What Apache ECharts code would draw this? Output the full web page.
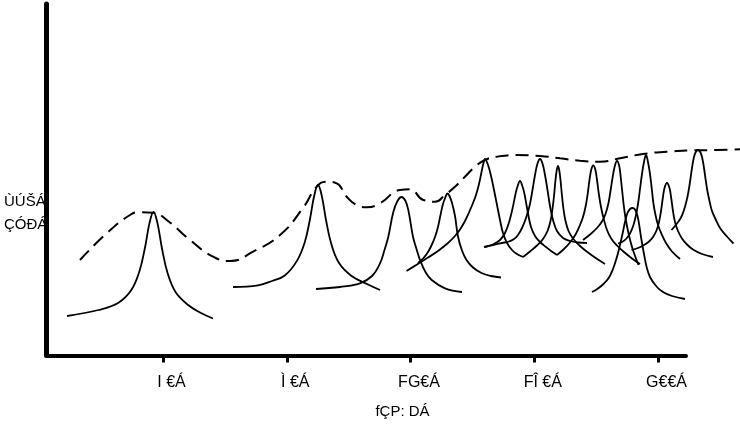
<!DOCTYPE html>
<html>
<head>
<meta charset="utf-8">
<script src="https://cdn.jsdelivr.net/npm/echarts@6/dist/echarts.min.js"></script>
<style>
  html, body { margin: 0; padding: 0; background: #fff; }
  #chart { width: 740px; height: 426px; }
</style>
</head>
<body>
<div id="chart"></div>
<script>
// ---- data (x in axis units, y in arbitrary intensity units) ----
const xTickValues = [40, 80, 120, 160, 200];
const xTickLabels = ['I €Á', 'Ì €Á', 'FG€Á', 'FÎ €Á', 'G€€Á'];
const xAxisTitle = 'fÇP: DÁ';
const yAxisTitle = ['ÙÚŠÁ', 'ÇÓÐÁ'];

const envelope = [
  [13.17,95.5],[21.80,122.2],[29.33,140.5],[32.57,143.2],[36.77,142.8],[41.20,135.5],
  [48.73,115.5],[56.16,98.8],[61.66,94.5],[69.09,103.8],[77.82,120.5],[85.25,147.5],
  [89.68,168.8],[92.91,173.8],[96.14,172.2],[99.37,158.8],[102.61,150.5],[105.84,148.2],
  [110.14,152.2],[116.60,165.5],[119.83,166.2],[124.13,155.5],[127.92,153.8],[131.15,160.5],
  [134.38,168.8],[137.61,178.8],[140.84,188.8],[144.08,195.5],[147.86,198.8],[154.32,200.5],
  [161.85,199.5],[168.32,197.2],[174.78,194.8],[181.25,193.8],[187.71,197.2],[195.15,201.5],
  [202.80,203.8],[210.34,205],[218.97,205.5],[226.50,206.2]
];

const peak1 = [[8.97,39.5],[19.15,45.5],[25.61,52.8],[29.81,65.7],[32.40,84.5],[34.18,108],[35.63,132.4],
  [36.93,143.5],[38.22,132.1],[39.67,107],[41.45,82.8],[44.04,63.5],[48.24,50.2],[51.96,43],[56.16,37]];
const peak2 = [[62.62,68.5],[70.70,70.2],[75.23,74.5],[79.35,80],[83.34,94.9],[85.80,113.1],[87.48,136],[88.87,159.7],
  [90.10,170.5],[91.33,159.4],[92.72,135],[94.40,111.5],[96.85,92.7],[100.84,79.8],[106.26,71],[110.14,65.5]];
const peak3 = [[89.45,66.5],[97.21,68.5],[103.67,72.2],[107.55,79.5],[110.14,92.2],[111.59,105.5],[112.82,118.8],
  [114.44,143.5],[115.79,154.5],[117.09,158.5],[118.38,154.5],[119.35,144.5],[120.80,118.8],[121.94,106.5],
  [123.07,95.5],[124.84,83.5],[126.85,75.5],[131.15,67.2],[136.64,63.5]];
const peak4 = [[122.42,92.5],[124.04,97],[125.33,102],[126.62,109],[127.92,118.5],[128.88,128.5],[129.69,140.5],
  [130.50,151.5],[131.31,158.5],[131.96,162],[132.60,159.5],[133.41,152.5],[134.38,139.5],[135.35,119],
  [136.64,105],[138.10,95.5],[140.20,88],[142.95,82.5],[146.02,79.5],[149.25,78]];
const peak5 = [[118.70,84.5],[122.09,91],[125.65,98],[128.88,104.5],[132.12,112.5],[134.38,119.5],[136.00,126],
  [137.61,134.5],[138.90,143],[140.20,152.5],[141.17,160.5],[142.14,171.5],[142.95,183.5],[143.59,192.5],
  [144.08,196.5],[144.56,194.5],[145.37,187.5],[146.18,177.5],[146.99,165.5],[147.96,150.5],[148.93,135.5],
  [149.89,122.5],[151.19,112.5],[152.80,105.5],[154.42,101.5],[156.36,98.5]];
const peak6 = [[144.08,108.5],[146.66,111],[148.93,115.5],[150.54,122.5],[151.67,131.5],[152.48,140.5],[153.29,151.5],
  [153.94,161.5],[154.58,169],[155.39,174.5],[156.20,169],[156.84,161.5],[157.49,150.5],[158.14,139.5],
  [158.95,128.5],[160.24,119.5],[161.85,113.5],[163.79,108.5],[165.41,104.5],[167.35,100.5]];
const peak7 = [[143.75,108.5],[146.66,110.5],[149.57,112.5],[151.83,114],[153.45,116.5],[154.74,120.5],[156.04,127.5],
  [157.33,137.5],[158.46,149.5],[159.43,165.5],[160.24,180.5],[161.05,192],[161.85,196.5],[162.66,192],
  [163.47,180.5],[164.28,165.5],[165.09,149.5],[166.06,135.5],[167.35,124.5],[169.29,117.5],[171.55,114.5],
  [174.14,113],[177.05,112.5]];
const peak8 = [[156.36,98.5],[158.62,104],[160.88,110],[162.82,116.5],[164.28,124.5],[165.25,134.5],[165.89,146.5],
  [166.38,159.5],[166.86,175.5],[167.28,185.5],[167.67,189.5],[168.06,185.5],[168.48,175.5],[168.97,159.5],
  [169.45,146.5],[170.10,134.5],[171.07,124.5],[172.52,117],[174.46,110.5],[176.72,104.5],[179.63,98],[182.86,91.5]];
const peak9 = [[167.35,100.5],[169.61,106.5],[171.55,113],[173.33,121],[174.78,130.5],[175.75,138.5],[176.56,148.5],
  [177.21,160.5],[177.85,175.5],[178.44,186],[179.08,190],[179.73,186],[180.28,175.5],[180.92,160.5],
  [181.57,148.5],[182.38,137.5],[183.51,125.5],[184.96,116.5],[186.74,110],[189.01,103.5],[191.59,97],[194.18,91.5]];
const peak10 = [[175.75,115.5],[178.02,121],[180.28,127.5],[181.89,134],[183.03,141.5],[183.99,152.5],[184.64,164.5],
  [185.29,177.5],[186.03,189.5],[186.74,194.5],[187.46,189.5],[187.97,177.5],[188.42,164.5],[188.91,150.5],
  [189.49,137.5],[190.30,124.5],[191.27,112],[192.40,101],[193.69,90.5]];
const peak11 = [[187.07,112],[188.36,113.5],[189.65,116.5],[190.94,122],[192.07,130.5],[192.88,140.5],[193.53,151.5],
  [194.18,166.5],[194.82,181.5],[195.47,193.5],[196.12,200.5],[196.76,193.5],[197.41,181.5],[197.99,166.5],
  [198.54,151.5],[199.19,140.5],[200.00,130.5],[201.13,121.5],[202.58,112.5],[204.52,104],[207.11,96.5]];
const peak12 = [[178.66,63.5],[180.60,67],[182.54,72],[184.16,78],[185.45,86.5],[186.58,97],[187.55,108.5],
  [188.52,121.5],[189.33,133.5],[190.13,142.5],[190.94,146.5],[191.75,147.5],[192.56,146],[193.37,139.5],
  [194.02,128.5],[194.66,115.5],[195.47,101.5],[196.28,89],[197.41,78.5],[199.51,69],[201.61,63.5],
  [204.52,59.5],[208.72,56.5]];
const peak13 = [[191.43,105.5],[193.53,107.5],[195.47,110.5],[197.09,114],[198.38,118.5],[199.51,125],[200.32,133.5],
  [200.97,144.5],[201.55,157.5],[202.10,167.5],[202.90,172.5],[203.71,167.5],[204.26,157.5],[204.84,144.5],
  [205.49,133.5],[206.46,124.5],[207.75,117],[209.37,111],[211.31,106],[214.22,101.5],[217.77,98.5]];
const peak14 = [[204.36,125.5],[206.14,132],[207.43,138],[208.40,145.5],[209.21,154.5],[209.85,164],[210.43,175.5],
  [210.98,187.5],[211.63,198.5],[212.28,204],[212.92,205.5],[213.57,204],[214.22,198.5],[214.86,187.5],
  [215.41,175.5],[216.00,164],[216.64,154.5],[217.45,144.5],[218.58,136.5],[220.04,127.5],[222.14,119.5],[224.40,112]];

const peaks = [peak1, peak2, peak3, peak4, peak5, peak6, peak7, peak8, peak9, peak10, peak11, peak12, peak13, peak14];

// ---- chart ----
const FONT = '"Liberation Sans", Arial, sans-serif';
const chart = echarts.init(document.getElementById('chart'), null, { renderer: 'canvas' });

const X_MIN = 2.34, X_MAX_AXIS = 209.05, X_MAX_PLOT = 226.5, Y_MAX = 351.5;

const series = peaks.map((p, i) => ({
  name: 'peak' + (i + 1),
  type: 'line',
  xAxisIndex: 1, yAxisIndex: 1,
  data: p,
  smooth: 0.4,
  showSymbol: false,
  symbol: 'none',
  clip: false,
  silent: true,
  lineStyle: { color: '#000', width: 1.8 }
}));
series.push({
  name: 'envelope',
  type: 'line',
  xAxisIndex: 1, yAxisIndex: 1,
  data: envelope,
  smooth: 0.5,
  showSymbol: false,
  symbol: 'none',
  clip: false,
  silent: true,
  lineStyle: { color: '#000', width: 2, type: [13, 7] }
});

const option = {
  animation: false,
  backgroundColor: '#fff',
  grid: [
    { left: 46.5, right: 54, top: 4, bottom: 70.5, containLabel: false, outerBoundsMode: 'none' },
    { left: 46.5, right: 0, top: 4, bottom: 70.5, containLabel: false, outerBoundsMode: 'none' }
  ],
  xAxis: [{
    gridIndex: 0,
    type: 'value',
    min: X_MIN,
    max: X_MAX_AXIS,
    splitLine: { show: false },
    axisLine: { show: true, onZero: false, lineStyle: { color: '#000', width: 4 } },
    axisTick: { show: true, customValues: xTickValues, length: 7, lineStyle: { color: '#000', width: 3 } },
    axisLabel: {
      show: true,
      customValues: xTickValues,
      margin: 19,
      color: '#000',
      fontSize: 16,
      fontFamily: FONT,
      padding: [0, 0, 0, 17],
      formatter: function (v) {
        const i = xTickValues.indexOf(v);
        return i >= 0 ? xTickLabels[i] : '';
      }
    }
  }, {
    gridIndex: 1,
    type: 'value',
    min: X_MIN,
    max: X_MAX_PLOT,
    show: false
  }],
  yAxis: [{
    gridIndex: 0,
    type: 'value',
    min: 0,
    max: Y_MAX,
    splitLine: { show: false },
    axisLine: { show: true, onZero: false, lineStyle: { color: '#000', width: 5 } },
    axisTick: { show: false },
    axisLabel: { show: false }
  }, {
    gridIndex: 1,
    type: 'value',
    min: 0,
    max: Y_MAX,
    show: false
  }],
  graphic: [
    {
      type: 'text',
      x: 4, y: 213,
      silent: true,
      style: {
        text: yAxisTitle.join('\n'),
        fill: '#000',
        font: '15px ' + FONT,
        lineHeight: 23,
        align: 'left',
        verticalAlign: 'middle'
      }
    },
    {
      type: 'text',
      x: 402.5, y: 412,
      silent: true,
      style: {
        text: xAxisTitle,
        fill: '#000',
        font: '15px ' + FONT,
        align: 'center',
        verticalAlign: 'middle'
      }
    }
  ],
  series: series
};
chart.setOption(option);
</script>
</body>
</html>
